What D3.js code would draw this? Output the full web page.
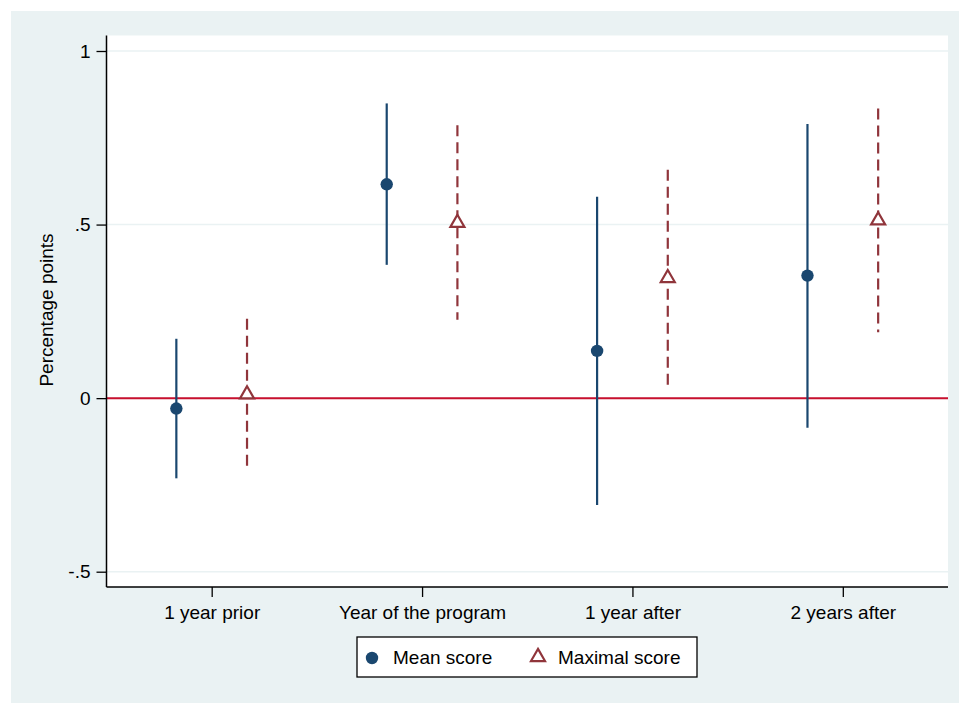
<!DOCTYPE html>
<html>
<head>
<meta charset="utf-8">
<script src="https://cdn.jsdelivr.net/npm/d3@7"></script>
<style>
  html, body { margin: 0; padding: 0; background: #ffffff; }
  svg { display: block; }
  text { font-family: "Liberation Sans", Arial, sans-serif; fill: #000; }
</style>
</head>
<body>
<svg id="chart" width="959" height="703"></svg>
<script>
// Data
const categories = ["1 year prior", "Year of the program", "1 year after", "2 years after"];
const meanEst  = [-0.030, 0.616, 0.136, 0.353];
const meanLo   = [-0.231, 0.384, -0.308, -0.085];
const meanHi   = [0.171, 0.849, 0.580, 0.790];
const maxEst   = [0.011, 0.505, 0.346, 0.512];
const maxLo    = [-0.205, 0.226, 0.026, 0.190];
const maxHi    = [0.229, 0.786, 0.658, 0.834];
const yTicks   = [-0.5, 0, 0.5, 1];
const yTickLabels = ["-.5", "0", ".5", "1"];
const seriesNames = ["Mean score", "Maximal score"];

const W = 959, H = 703;
const svg = d3.select("#chart");

const colMean = "#1a476f", colMax = "#90353b", colZero = "#c8102e", bg = "#eaf2f3";
const FS = "19px";

// outer background
svg.append("rect").attr("x", 11).attr("y", 11).attr("width", W - 11).attr("height", H - 11).attr("fill", bg);

const plot = { left: 106.5, right: 948, top: 35.5, bottom: 587 };
svg.append("rect").attr("x", plot.left).attr("y", plot.top)
  .attr("width", plot.right - plot.left).attr("height", plot.bottom - plot.top).attr("fill", "#fff");

const x = d3.scaleLinear().domain([0.5, 4.5]).range([plot.left, plot.right]);
const y = d3.scaleLinear().domain([-0.5, 1]).range([571.7, 51]);
const offset = 0.168;

// gridlines
svg.append("g").selectAll("line").data(yTicks).join("line")
  .attr("x1", plot.left).attr("x2", plot.right)
  .attr("y1", d => y(d)).attr("y2", d => y(d))
  .attr("stroke", bg).attr("stroke-width", 1.5);

// zero line
svg.append("line").attr("x1", plot.left).attr("x2", plot.right)
  .attr("y1", y(0)).attr("y2", y(0)).attr("stroke", colZero).attr("stroke-width", 2);

// y axis
const yAxis = d3.axisLeft(y).tickValues(yTicks).tickFormat((d, i) => yTickLabels[i]).tickSize(10).tickPadding(6);
const gy = svg.append("g").attr("transform", `translate(${plot.left},0)`).call(yAxis);
gy.select(".domain").remove();
gy.selectAll(".tick line").attr("stroke", "#000").attr("stroke-width", 1.3);
gy.selectAll("text").style("font-size", FS).attr("font-family", "Liberation Sans, Arial, sans-serif").attr("fill", "#000");
svg.append("line").attr("x1", plot.left).attr("x2", plot.left).attr("y1", plot.top).attr("y2", plot.bottom)
  .attr("stroke", "#000").attr("stroke-width", 1.5);

// x axis
const xAxis = d3.axisBottom(x).tickValues([1, 2, 3, 4]).tickFormat((d) => categories[d - 1]).tickSize(10).tickPadding(9);
const gx = svg.append("g").attr("transform", `translate(0,${plot.bottom})`).call(xAxis);
gx.select(".domain").remove();
gx.selectAll(".tick line").attr("stroke", "#000").attr("stroke-width", 1.3);
gx.selectAll("text").style("font-size", FS).attr("font-family", "Liberation Sans, Arial, sans-serif").attr("fill", "#000");
svg.append("line").attr("x1", plot.left).attr("x2", plot.right).attr("y1", plot.bottom).attr("y2", plot.bottom)
  .attr("stroke", "#000").attr("stroke-width", 1.5);

// y title
svg.append("text").attr("transform", `translate(53,310) rotate(-90)`)
  .attr("text-anchor", "middle").style("font-size", FS).text("Percentage points");

const meanData = categories.map((c, i) => ({ i, est: meanEst[i], lo: meanLo[i], hi: meanHi[i] }));
const maxData = categories.map((c, i) => ({ i, est: maxEst[i], lo: maxLo[i], hi: maxHi[i] }));

svg.append("g").selectAll("line").data(meanData).join("line")
  .attr("x1", d => x(d.i + 1 - offset)).attr("x2", d => x(d.i + 1 - offset))
  .attr("y1", d => y(d.lo)).attr("y2", d => y(d.hi))
  .attr("stroke", colMean).attr("stroke-width", 2.2);

svg.append("g").selectAll("line").data(maxData).join("line")
  .attr("x1", d => x(d.i + 1 + offset)).attr("x2", d => x(d.i + 1 + offset))
  .attr("y1", d => y(d.hi)).attr("y2", d => y(d.lo))
  .attr("stroke", colMax).attr("stroke-width", 2.2).attr("stroke-dasharray", "11,6");

svg.append("g").selectAll("circle").data(meanData).join("circle")
  .attr("cx", d => x(d.i + 1 - offset)).attr("cy", d => y(d.est)).attr("r", 6.2)
  .attr("fill", colMean);

const tri = d3.symbol().type(d3.symbolTriangle).size(85);
svg.append("g").selectAll("path").data(maxData).join("path")
  .attr("d", tri)
  .attr("transform", d => `translate(${x(d.i + 1 + offset)},${y(d.est)})`)
  .attr("fill", "#fff").attr("stroke", colMax).attr("stroke-width", 2.2);

// legend
const lg = svg.append("g");
lg.append("rect").attr("x", 357).attr("y", 637).attr("width", 340).attr("height", 40)
  .attr("fill", "#fff").attr("stroke", "#000").attr("stroke-width", 1.3);
lg.append("circle").attr("cx", 372).attr("cy", 658).attr("r", 6.2).attr("fill", colMean);
lg.append("text").attr("x", 393).attr("y", 664).style("font-size", FS).text(seriesNames[0]);
lg.append("path").attr("d", tri).attr("transform", "translate(538,657)")
  .attr("fill", "#fff").attr("stroke", colMax).attr("stroke-width", 2.2);
lg.append("text").attr("x", 558).attr("y", 664).style("font-size", FS).text(seriesNames[1]);
</script>
</body>
</html>
